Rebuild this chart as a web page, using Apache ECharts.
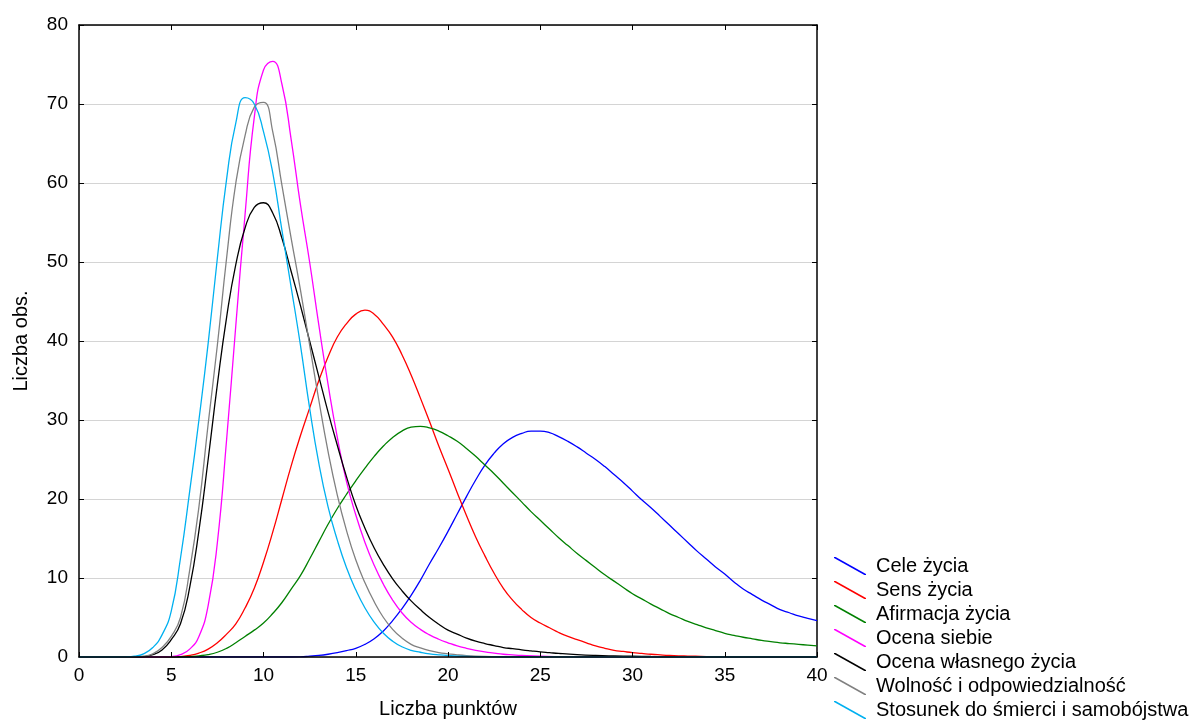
<!DOCTYPE html>
<html>
<head>
<meta charset="utf-8">
<script src="https://cdn.jsdelivr.net/npm/echarts@6/dist/echarts.min.js"></script>
<style>
html,body{margin:0;padding:0;background:#fff;}
#chart{width:1203px;height:724px;}
</style>
</head>
<body>
<div id="chart"></div>
<script>
// ---- data ----
const seriesNames = ["Cele życia","Sens życia","Afirmacja życia","Ocena siebie","Ocena własnego życia","Wolność i odpowiedzialność","Stosunek do śmierci i samobójstwa"];
const xTicks = [0,5,10,15,20,25,30,35,40];
const yTicks = [0,10,20,30,40,50,60,70,80];

const cele = [[0,0],[10,0],[11,0],[11.5,0],[12,0.02],[12.5,0.1],[13,0.2],[13.5,0.35],[14,0.55],[14.5,0.8],[15,1.1],[15.5,1.6],[16,2.3],[16.5,3.3],[17,4.6],[17.5,6.1],[18,7.8],[18.5,9.7],[19,11.8],[19.5,13.8],[20,15.9],[20.5,18.1],[21,20.3],[21.5,22.4],[22,24.3],[22.5,25.8],[23,27.0],[23.5,27.8],[24,28.3],[24.5,28.6],[25,28.6],[25.5,28.4],[26,27.9],[26.5,27.3],[27,26.6],[27.5,25.8],[28,25.0],[28.5,24.1],[29,23.1],[29.5,22.1],[30,21.0],[30.5,19.9],[31,18.9],[31.5,17.8],[32,16.7],[32.5,15.6],[33,14.5],[33.5,13.4],[34,12.4],[34.5,11.4],[35,10.5],[35.5,9.5],[36,8.6],[36.5,7.9],[37,7.2],[37.5,6.6],[38,6.0],[38.5,5.6],[39,5.2],[39.5,4.9],[40,4.6]];

const sens = [[0,0],[4,0],[4.5,0],[5,0],[5.5,0.05],[6,0.2],[6.5,0.5],[7,1.0],[7.5,1.8],[8,2.9],[8.5,4.2],[9,6.2],[9.5,8.7],[10,12],[10.5,15.8],[11,20],[11.5,24.2],[12,28],[12.5,31.5],[13,35],[13.5,38],[14,40.5],[14.5,42.2],[15,43.4],[15.5,43.9],[16,43.4],[16.5,42.1],[17,40.5],[17.5,38.3],[18,35.7],[18.5,32.8],[19,29.8],[19.5,26.7],[20,23.8],[20.5,20.8],[21,17.9],[21.5,15.2],[22,12.8],[22.5,10.6],[23,8.7],[23.5,7.2],[24,6.0],[24.5,5.0],[25,4.3],[25.5,3.7],[26,3.1],[26.5,2.6],[27,2.2],[27.5,1.8],[28,1.4],[28.5,1.1],[29,0.85],[29.5,0.7],[30,0.55],[30.5,0.45],[31,0.35],[31.5,0.27],[32,0.2],[32.5,0.15],[33,0.12],[34,0.06],[35,0.03],[36,0],[37,0],[40,0]];

const afirmacja = [[0,0],[4,0],[4.5,0],[5,0],[5.5,0.02],[6,0.05],[6.5,0.15],[7,0.3],[7.5,0.6],[8,1.1],[8.5,1.8],[9,2.6],[9.5,3.4],[10,4.3],[10.5,5.5],[11,6.9],[11.5,8.6],[12,10.3],[12.5,12.4],[13,14.6],[13.5,16.8],[14,18.8],[14.5,20.6],[15,22.3],[15.5,23.9],[16,25.4],[16.5,26.7],[17,27.8],[17.5,28.6],[18,29.1],[18.5,29.2],[19,29.0],[19.5,28.6],[20,28.0],[20.5,27.3],[21,26.4],[21.5,25.4],[22,24.3],[22.5,23.2],[23,22.0],[23.5,20.8],[24,19.6],[24.5,18.4],[25,17.3],[25.5,16.2],[26,15.1],[26.5,14.1],[27,13.1],[27.5,12.2],[28,11.3],[28.5,10.4],[29,9.6],[29.5,8.8],[30,8.0],[30.5,7.35],[31,6.7],[31.5,6.1],[32,5.5],[32.5,5.0],[33,4.5],[33.5,4.1],[34,3.7],[34.5,3.35],[35,3.0],[35.5,2.75],[36,2.5],[36.5,2.3],[37,2.1],[37.5,1.95],[38,1.8],[38.5,1.7],[39,1.6],[39.5,1.5],[40,1.4]];

const ocenaSiebie = [[0,0],[4,0],[4.5,0],[5,0.05],[5.5,0.3],[6,1.0],[6.5,2.6],[7,6.5],[7.5,14.5],[8,27.5],[8.5,42],[9,56],[9.5,68.3],[10,74.3],[10.5,75.4],[11,72.5],[11.5,65.5],[12,57.3],[12.5,50],[13,42],[13.5,34.5],[14,27.8],[14.5,22.2],[15,18],[15.5,14.5],[16,11.6],[16.5,9.2],[17,7.2],[17.5,5.6],[18,4.4],[18.5,3.5],[19,2.8],[19.5,2.25],[20,1.8],[20.5,1.4],[21,1.1],[21.5,0.85],[22,0.65],[22.5,0.5],[23,0.35],[23.5,0.27],[24,0.2],[25,0.1],[26,0.05],[27,0.03],[28,0],[29,0],[40,0]];

const ocenaZycia = [[0,0],[2,0],[2.5,0],[3,0],[3.5,0.05],[4,0.3],[4.5,0.9],[5,2.2],[5.5,4.2],[6,8.8],[6.5,16],[7,25],[7.5,34.5],[8,43],[8.5,49.7],[9,54.3],[9.5,56.9],[10,57.5],[10.5,56.2],[11,53],[11.5,48.8],[12,44.5],[12.5,40],[13,35.5],[13.5,31],[14,26.8],[14.5,22.8],[15,19.2],[15.5,16.3],[16,13.8],[16.5,11.7],[17,9.9],[17.5,8.4],[18,7.1],[18.5,6.0],[19,5.0],[19.5,4.15],[20,3.4],[20.5,2.9],[21,2.4],[21.5,2.0],[22,1.7],[22.5,1.45],[23,1.2],[23.5,1.05],[24,0.9],[24.5,0.77],[25,0.65],[25.5,0.55],[26,0.45],[27,0.3],[28,0.2],[29,0.14],[30,0.1],[31,0.07],[32,0.05],[33,0.03],[34,0.01],[35,0],[36,0],[40,0]];

const wolnosc = [[0,0],[2,0],[2.5,0],[3,0],[3.5,0.1],[4,0.4],[4.5,1.2],[5,2.6],[5.5,5.0],[6,11],[6.5,19],[7,29.5],[7.5,39.5],[8,50.5],[8.5,60],[9,66],[9.5,69.6],[10,70.2],[10.5,66.5],[11,59.7],[11.5,53],[12,46.5],[12.5,39.5],[13,32.5],[13.5,26],[14,20.5],[14.5,16],[15,12.3],[15.5,9.4],[16,7],[16.5,5],[17,3.5],[17.5,2.4],[18,1.6],[18.5,1.15],[19,0.8],[19.5,0.55],[20,0.4],[20.5,0.27],[21,0.18],[22,0.08],[23,0.03],[24,0],[25,0],[40,0]];

const stosunek = [[0,0],[1.5,0],[2,0],[2.5,0.02],[3,0.1],[3.5,0.4],[4,1.2],[4.5,2.8],[5,5.8],[5.5,12.5],[6,21],[6.5,30],[7,39.7],[7.5,50.5],[8,60.5],[8.5,67.6],[9,70.8],[9.5,70.0],[10,66.5],[10.5,61.3],[11,54],[11.5,46.8],[12,39.5],[12.5,31.5],[13,24.5],[13.5,19],[14,14.8],[14.5,11.3],[15,8.5],[15.5,6.2],[16,4.4],[16.5,3.0],[17,2.0],[17.5,1.3],[18,0.85],[18.5,0.6],[19,0.4],[19.5,0.27],[20,0.18],[21,0.07],[22,0.02],[23,0],[24,0],[40,0]];

const seriesData = [cele, sens, afirmacja, ocenaSiebie, ocenaZycia, wolnosc, stosunek];
const colors = ["#0000ff","#ff0000","#008000","#ff00ff","#000000","#808080","#00b0f0"];

// ---- chart ----
const FONT = "'Liberation Sans', Arial, Helvetica, sans-serif";
const chart = echarts.init(document.getElementById('chart'), null, {renderer:'canvas'});
const diag = 'path://M0,0 L1.6,0 L32,16.9 L32,18 L30.4,18 L0,1.1 Z';

const option = {
  animation: false,
  backgroundColor: '#ffffff',
  textStyle: {fontFamily: FONT},
  grid: {left: 79, right: 386, top: 25, bottom: 67, containLabel: false},
  legend: {
    orient: 'vertical',
    left: 834, top: 556, padding: 0,
    itemWidth: 32, itemHeight: 18, itemGap: 4,
    icon: diag,
    textStyle: {fontFamily: FONT, fontSize: 20, color: '#000', padding: [0,0,0,5], lineHeight: 18},
    data: seriesNames.map((n,i)=>({name:n, icon: diag, itemStyle:{color: colors[i]}}))
  },
  xAxis: [{
    type: 'value', min: 0, max: 40, interval: 5, position: 'bottom', z: 5,
    name: 'Liczba punktów', nameLocation: 'middle', nameGap: 42,
    nameTextStyle: {fontFamily: FONT, fontSize: 20, color: '#000'},
    axisLine: {show: true, onZero: false, lineStyle: {color: '#000', width: 1.5}},
    axisTick: {show: true, inside: true, length: 5, lineStyle: {color: '#000'}},
    axisLabel: {show: true, margin: 9, fontFamily: FONT, fontSize: 19, color: '#000',
      formatter: v => xTicks.includes(v) ? String(v) : ''},
    splitLine: {show: false}
  },{
    type: 'value', min: 0, max: 40, interval: 5, position: 'top',
    axisLine: {show: true, onZero: false, lineStyle: {color: '#000', width: 1.5}},
    axisTick: {show: true, inside: true, length: 5, lineStyle: {color: '#000'}},
    axisLabel: {show: false}, splitLine: {show: false}
  }],
  yAxis: [{
    type: 'value', min: 0, max: 80, interval: 10, position: 'left',
    name: 'Liczba obs.', nameLocation: 'middle', nameGap: 48,
    nameTextStyle: {fontFamily: FONT, fontSize: 20, color: '#000'},
    axisLine: {show: true, onZero: false, lineStyle: {color: '#000', width: 1.5}},
    axisTick: {show: true, inside: true, length: 5, lineStyle: {color: '#000'}},
    axisLabel: {show: true, margin: 11, fontFamily: FONT, fontSize: 19, color: '#000',
      formatter: v => yTicks.includes(v) ? String(v) : ''},
    splitLine: {show: true, lineStyle: {color: '#d4d4d4', width: 1}}
  },{
    type: 'value', min: 0, max: 80, interval: 10, position: 'right',
    axisLine: {show: true, onZero: false, lineStyle: {color: '#000', width: 1.5}},
    axisTick: {show: true, inside: true, length: 5, lineStyle: {color: '#000'}},
    axisLabel: {show: false}, splitLine: {show: false}
  }],
  series: seriesNames.map((n,i)=>({
    name: n, type: 'line', data: seriesData[i],
    xAxisIndex: 0, yAxisIndex: 0,
    smooth: 0.5, showSymbol: false, symbol: 'none',
    lineStyle: {color: colors[i], width: 1.3},
    itemStyle: {color: colors[i]},
    emphasis: {disabled: true}
  }))
};
chart.setOption(option);
</script>
</body>
</html>
